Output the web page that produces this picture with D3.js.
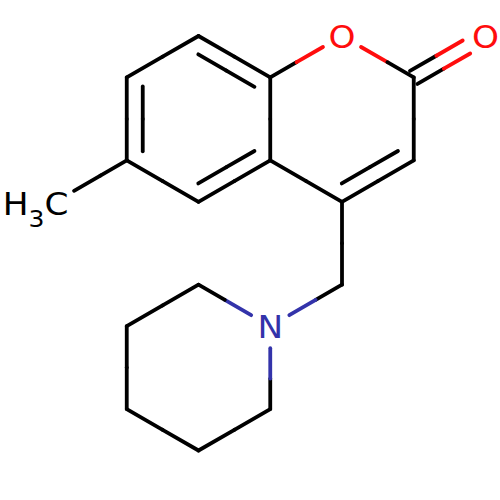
<!DOCTYPE html>
<html>
<head>
<meta charset="utf-8">
<script src="https://cdn.jsdelivr.net/npm/d3@7/dist/d3.min.js"></script>
<style>html,body{margin:0;padding:0;background:#fff}svg{display:block}</style>
</head>
<body>
<script>
// Atom positions on the drawing lattice (columns, half-bond rows)
const atomColumn = [0,1,1,2,3,4,5,6,5,4,3,2,4,3,2,1,1,2,3];
const atomRow    = [4,3,1,0,1,0,1,0,3,4,3,4,6,7,6,7,9,10,9];
const atomElement = ["CH3","C","C","C","C","O","C","O","C","C","C","C","C","N","C","C","C","C","C"];
// Bonds
const bondFrom  = [0,1,2,3,4,5,6,6,8,9,10,10,1,9,12,13,14,15,16,17,18];
const bondTo    = [1,2,3,4,5,6,7,8,9,10,4,11,11,12,13,14,15,16,17,18,13];
const bondOrder = [1,2,1,2,1,1,2,1,2,1,1,2,1,1,1,1,1,1,1,1,1];

const W = 500, H = 500;
const x = d3.scaleLinear().domain([0,6]).range([55,485.5]);
const y = d3.scaleLinear().domain([0,10]).range([36,450.5]);
const colorOf = d3.scaleOrdinal().domain(["C","CH3","O","N"]).range(["#000000","#000000","#ff0d0d","#3333aa"]);

const svg = d3.select("body").append("svg").attr("width",W).attr("height",H).attr("viewBox",`0 0 ${W} ${H}`);
svg.append("rect").attr("width",W).attr("height",H).attr("fill","#fff");

const px = i => [x(atomColumn[i]), y(atomRow[i])];
const labelled = i => atomElement[i] !== "C";
const GAP = 22, INNER = 16, SHORT = 9, TERMINAL = 7.5;

// Centres of the two rings, used to place the inner line of ring double bonds
const ringA = [1,2,3,4,10,11], ringB = [4,5,6,8,9,10];
const centre = r => [d3.mean(r,i=>px(i)[0]), d3.mean(r,i=>px(i)[1])];

const segments = [];
function addLine(a, b, pa, pb, trimA, trimB) {
  const dx = pb[0]-pa[0], dy = pb[1]-pa[1], L = Math.hypot(dx,dy), ux = dx/L, uy = dy/L;
  const s = [pa[0]+ux*trimA, pa[1]+uy*trimA], e = [pb[0]-ux*trimB, pb[1]-uy*trimB];
  const m = [(s[0]+e[0])/2,(s[1]+e[1])/2];
  segments.push({p:s,q:m,c:colorOf(atomElement[a])});
  segments.push({p:m,q:e,c:colorOf(atomElement[b])});
}
bondFrom.forEach((a,k)=>{
  const b = bondTo[k], pa = px(a), pb = px(b);
  const dx = pb[0]-pa[0], dy = pb[1]-pa[1], L = Math.hypot(dx,dy);
  const nx = -dy/L, ny = dx/L;
  const ta = labelled(a)?GAP:0, tb = labelled(b)?GAP:0;
  if (bondOrder[k]===2 && (labelled(a)||labelled(b))) {
    [-TERMINAL,TERMINAL].forEach(o=>{
      addLine(a,b,[pa[0]+nx*o,pa[1]+ny*o],[pb[0]+nx*o,pb[1]+ny*o],ta,tb);
    });
    return;
  }
  addLine(a,b,pa,pb,ta,tb);
  if (bondOrder[k]===2) {
    const r = (ringA.includes(a)&&ringA.includes(b)) ? ringA : ringB;
    const c = centre(r), mx=(pa[0]+pb[0])/2, my=(pa[1]+pb[1])/2;
    const side = ((c[0]-mx)*nx+(c[1]-my)*ny)>0 ? 1 : -1;
    const o = INNER*side;
    addLine(a,b,[pa[0]+nx*o,pa[1]+ny*o],[pb[0]+nx*o,pb[1]+ny*o],SHORT,SHORT);
  }
});

svg.append("g").selectAll("line").data(segments).join("line")
  .attr("x1",d=>d.p[0]).attr("y1",d=>d.p[1]).attr("x2",d=>d.q[0]).attr("y2",d=>d.q[1])
  .attr("stroke",d=>d.c).attr("stroke-width",3.8).attr("stroke-linecap","round");

const font = "'DejaVu Sans'";
const STRETCH = 1.09, SIZE = 31.5;
const heavy = atomElement.map((e,i)=>({e,i})).filter(d=>d.e==="O"||d.e==="N");
svg.append("g").selectAll("text").data(heavy).join("text")
  .attr("transform",d=>`translate(${px(d.i)[0]},${px(d.i)[1]+12.3}) scale(${STRETCH},1)`)
  .attr("text-anchor","middle").attr("font-family",font).attr("font-size",SIZE)
  .attr("fill",d=>colorOf(d.e)).text(d=>d.e);

// Methyl label
const m = px(0);
const t = svg.append("text").attr("transform",`translate(${m[0]+13.5},${m[1]+13.5}) scale(${STRETCH},1)`)
  .attr("text-anchor","end")
  .attr("font-family",font).attr("font-size",SIZE).attr("fill","#000");
t.append("tspan").text("H");
t.append("tspan").attr("font-size",23).attr("dy",12).text("3");
t.append("tspan").attr("dy",-12).text("C");
</script>
</body>
</html>
